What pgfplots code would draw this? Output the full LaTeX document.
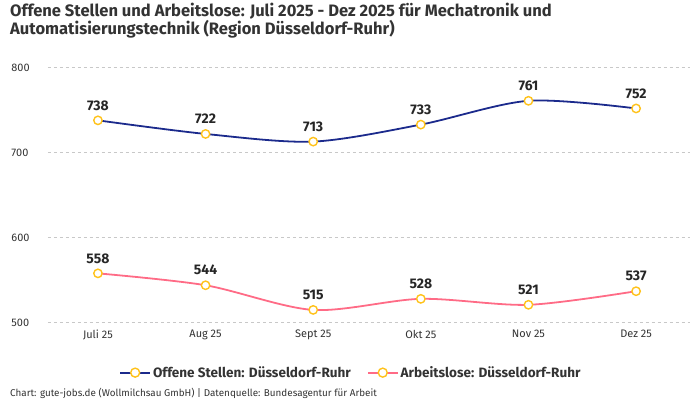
\documentclass[border=0pt]{standalone}
\usepackage{fontspec}
\setmainfont{Fira Sans}
\usepackage{pgfplots}
\pgfplotsset{compat=1.18}

\definecolor{navy}{HTML}{1B2A8C}
\definecolor{rosa}{HTML}{FF6B86}
\definecolor{gelb}{HTML}{FFC21A}
\definecolor{gitter}{HTML}{C8C8C8}
\definecolor{textgrau}{HTML}{333333}

\begin{document}
\begin{tikzpicture}[x=1bp,y=1bp]
\path[use as bounding box] (0,0) rectangle (700,400);

% Titel
\node[anchor=north west, align=left, font=\fontsize{16.6}{18}\selectfont\bfseries, text=textgrau, inner sep=0pt]
  at (10,397) {Offene Stellen und Arbeitslose: Juli 2025 - Dez 2025 für Mechatronik und\\Automatisierungstechnik (Region Düsseldorf-Ruhr)};

\begin{axis}[
    at={(44.5,91)}, anchor=south west,
    scale only axis,
    width=642bp, height=255bp,
    xmin=-0.465, xmax=5.5,
    ymin=500, ymax=800,
    axis line style={draw=none},
    xtick={0,...,5},
    xticklabels={Juli 25,Aug 25,Sept 25,Okt 25,Nov 25,Dez 25},
    ytick={500,600,700,800},
    ymajorgrids,
    grid style={gitter, dashed, line width=0.6pt},
    tick style={draw=none},
    /pgf/number format/assume math mode=true,
    ticklabel style={font=\fontsize{11}{13}\selectfont, text=textgrau},
    yticklabel style={anchor=west, xshift=-40bp},
    xticklabel style={yshift=-4bp},
    clip=false,
    nodes near coords,
    every node near coord/.append style={font=\fontsize{14}{16}\selectfont\bfseries, text=black!85, yshift=6bp},
    legend style={at={(0.472,-0.196)}, anchor=center, draw=none, fill=none,
      legend columns=2, font=\fontsize{13.6}{15}\selectfont\bfseries, text=textgrau,
      /tikz/every even column/.append style={column sep=14bp}},
    legend cell align=left,
    legend image code/.code={
      \draw[#1, line width=1.8pt, mark=none] (0bp,0bp) -- (30bp,0bp);
      \draw[draw=gelb, fill=white, line width=1.4pt] (15bp,0bp) circle (4.5bp);
    },
]
\addplot[navy, line width=1.8pt, smooth, tension=0.5,
  mark=*, mark size=4.2bp, mark options={draw=gelb, fill=white, line width=1.4pt}]
  coordinates {(0,738) (1,722) (2,713) (3,733) (4,761) (5,752)};
\addlegendentry{Offene Stellen: Düsseldorf-Ruhr}

\addplot[rosa, line width=1.8pt, smooth, tension=0.5,
  mark=*, mark size=4.2bp, mark options={draw=gelb, fill=white, line width=1.4pt}]
  coordinates {(0,558) (1,544) (2,515) (3,528) (4,521) (5,537)};
\addlegendentry{Arbeitslose: Düsseldorf-Ruhr}
\end{axis}

% Quelle
\node[anchor=west, font=\fontsize{9.9}{12}\selectfont, text=textgrau, inner sep=0pt]
  at (10,7) {Chart: gute-jobs.de (Wollmilchsau GmbH) | Datenquelle: Bundesagentur für Arbeit};
\end{tikzpicture}
\end{document}
